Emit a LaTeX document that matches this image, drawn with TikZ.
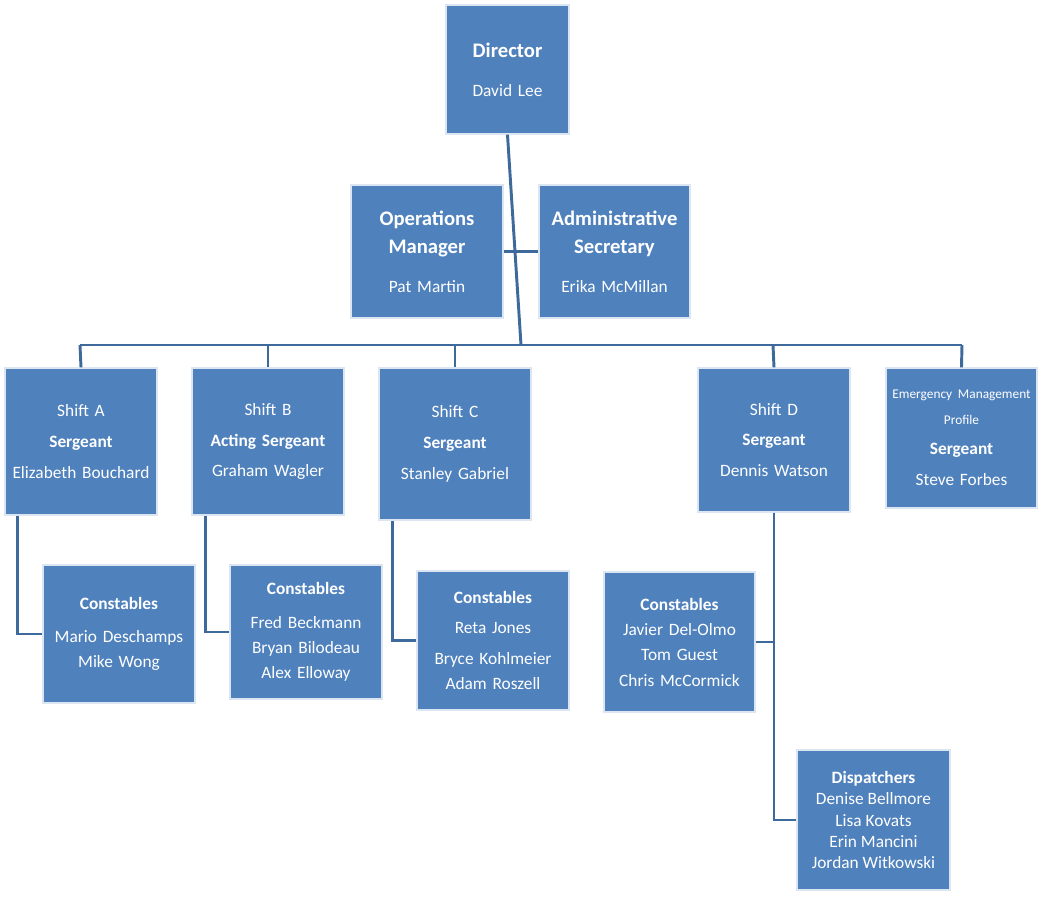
\documentclass[tikz,border=0pt]{standalone}
\usepackage{fontspec}
\setmainfont{Carlito}
\definecolor{boxc}{HTML}{4F81BD}
\definecolor{linec}{HTML}{3E6A9B}
\begin{document}
\begin{tikzpicture}[x=0.75pt,y=-0.75pt,
  box/.style={draw=white!80!boxc,line width=1pt,fill=boxc,text=white,align=center,inner sep=0pt,font=\fontsize{13}{19}\selectfont},
  ln/.style={draw=linec,line width=2.2pt}]
\useasboundingbox (0,0) rectangle (1040,897);
\newcommand{\bx}[6]{\node[box,minimum width={(#4-#2)*0.75pt},minimum height={(#5-#3)*0.75pt},text width={(#4-#2-6)*0.75pt}] (#1) at ({(#2+#4)/2},{(#3+#5)/2}) {#6};}
\newcommand{\hb}[1]{{\fontsize{15.5}{21}\selectfont\bfseries #1}}
% connectors first
\coordinate (busL) at (80,345); \coordinate (busR) at (962,345);
\coordinate (mid) at (521,345);
\bx{dir}{446}{5}{569}{134}{\hb{Director}\\[10pt] David Lee}
\bx{ops}{351}{185}{503}{318}{\hb{Operations}\\[2pt]\hb{Manager}\\[10pt] Pat Martin}
\bx{adm}{539}{185}{690}{318}{\hb{Administrative}\\[2pt]\hb{Secretary}\\[10pt] Erika McMillan}
\bx{sa}{5}{368}{157}{515}{Shift A\\[4pt] {\bfseries Sergeant}\\[4pt] Elizabeth Bouchard}
\bx{sb}{192}{368}{344}{515}{Shift B\\[4pt] {\bfseries Acting Sergeant}\\[4pt] Graham Wagler}
\bx{sc}{379}{368}{531}{520}{Shift C\\[4pt] {\bfseries Sergeant}\\[4pt] Stanley Gabriel}
\bx{sd}{698}{368}{850}{512}{Shift D\\[4pt] {\bfseries Sergeant}\\[4pt] Dennis Watson}
\bx{em}{886}{368}{1037}{508}{{\fontsize{10}{12}\selectfont Emergency Management\\ Profile}\\[4pt] {\bfseries Sergeant}\\[4pt] Steve Forbes}
\bx{ca}{43}{565}{195}{703}{{\bfseries Constables}\\[6pt] Mario Deschamps\\ Mike Wong}
\bx{cb}{230}{565}{382}{699}{{\bfseries Constables}\\[6pt] Fred Beckmann\\ Bryan Bilodeau\\ Alex Elloway}
\bx{cc}{417}{571}{569}{710}{{\bfseries Constables}\\[4pt] Reta Jones\\[4pt] Bryce Kohlmeier\\ Adam Roszell}
\bx{cd}{604}{572}{755}{712}{{\bfseries Constables}\\[0pt] Javier Del-Olmo\\[0pt] Tom Guest\\[0pt] Chris McCormick}
\node[box,minimum width={153*0.75pt},minimum height={140*0.75pt},font=\fontsize{13}{16}\selectfont] (dp) at (873.5,820) {{\bfseries Dispatchers}\\ Denise Bellmore\\ Lisa Kovats\\ Erin Mancini\\ Jordan Witkowski};
\draw[ln] (dir.south) -- (mid);
\draw[ln] (ops.east) -- (adm.west);
\draw[ln] (busL) -- (busR);
\draw[ln] (busL) -- (sa.north);
\draw[ln] (268,345) -- (sb.north);
\draw[ln] (455,345) -- (sc.north);
\draw[ln] (773,345) -- (sd.north);
\draw[ln] (busR) -- (em.north);
\draw[ln] (sa.south west) ++(13,0) |- (ca.west);
\draw[ln] (sb.south west) ++(14,0) |- (cb.west);
\draw[ln] (sc.south west) ++(14,0) |- (cc.west);
\draw[ln] (sd.south) |- (dp.west);
\draw[ln] (cd.east) -- (773,642);
\end{tikzpicture}
\end{document}
